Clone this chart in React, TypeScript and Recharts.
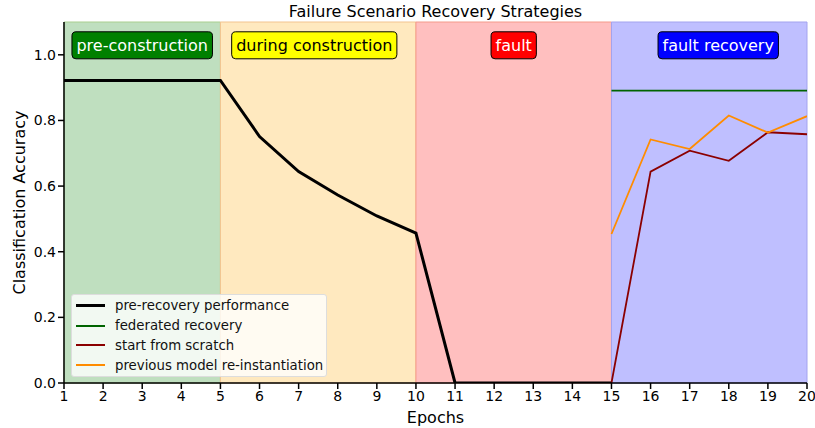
import React from 'react';
import {
  ComposedChart, Line, XAxis, YAxis, ReferenceArea, ReferenceDot,
} from 'recharts';

const epochs = [1, 2, 3, 4, 5, 6, 7, 8, 9, 10, 11, 12, 13, 14, 15, 16, 17, 18, 19, 20];
// epochs 1..15
const preRecovery = [0.922, 0.922, 0.922, 0.922, 0.922, 0.751, 0.644, 0.573, 0.509, 0.457, 0, 0, 0, 0, 0];
// epochs 15..20
const federatedRecovery = [0.891, 0.891, 0.891, 0.891, 0.891, 0.891];
const startFromScratch = [0, 0.644, 0.708, 0.677, 0.764, 0.758];
const reInstantiation = [0.454, 0.742, 0.713, 0.815, 0.763, 0.813];

const phaseNames = ['pre-construction', 'during construction', 'fault', 'fault recovery'];
const phaseStart = [1, 5, 10, 15];
const phaseEnd = [5, 10, 15, 20];
const phaseLabelX = [3, 7.4, 12.5, 17.73];

const xTicks = epochs;
const yTicks = [0, 0.2, 0.4, 0.6, 0.8, 1.0];

const FONT = '"DejaVu Sans", sans-serif';
const phaseFill = ['#bfdfbf', '#ffe9bf', '#ffbfbf', '#bfbfff'];
const phaseEdge = ['#a9cf8f', '#f3c48f', '#f59a8a', '#a3a3ee'];
const tagFill = ['#008000', '#ffff00', '#ff0000', '#0000ff'];
const tagText = ['#fff', '#000', '#fff', '#fff'];

const seriesNames = ['pre-recovery performance', 'federated recovery', 'start from scratch', 'previous model re-instantiation'];
const seriesColors = ['#000000', '#006400', '#8b0000', '#ff8c00'];

const rows = epochs.map((e, i) => ({
  epoch: e,
  pre: i < preRecovery.length ? preRecovery[i] : null,
  fed: e >= 15 ? federatedRecovery[e - 15] : null,
  scratch: e >= 15 ? startFromScratch[e - 15] : null,
  reinst: e >= 15 ? reInstantiation[e - 15] : null,
}));

let measureCtx: CanvasRenderingContext2D | null = null;
const textWidth = (s: string, size: number) => {
  if (!measureCtx) measureCtx = document.createElement('canvas').getContext('2d');
  if (!measureCtx) return s.length * size * 0.6;
  measureCtx.font = `${size}px "DejaVu Sans"`;
  return measureCtx.measureText(s).width;
};

const makeTag = (idx: number) => (props: any) => {
  const { cx, cy } = props;
  const label = phaseNames[idx];
  const w = textWidth(label, 16) + 9;
  const h = 27;
  return (
    <g>
      <rect x={cx - w / 2} y={cy - h / 2} width={w} height={h} rx={4} ry={4}
        fill={tagFill[idx]} stroke="#000" strokeWidth={1} />
      <text x={cx} y={cy + 1} textAnchor="middle" dominantBaseline="middle"
        fontFamily={FONT} fontSize={16} fill={tagText[idx]}>{label}</text>
    </g>
  );
};

const LegendBox = () => (
  <div style={{
    position: 'absolute', left: 71, top: 294, boxSizing: 'border-box',
    background: 'rgba(255,255,255,0.8)', border: '1px solid #ddd', borderRadius: 3,
    padding: '1px 4px 1px 4px', fontFamily: FONT, fontSize: 13.3, color: '#111', width: 256,
    whiteSpace: 'nowrap',
  }}>
    {seriesNames.map((n, i) => (
      <div key={n} style={{ display: 'flex', alignItems: 'center', height: 19.8 }}>
        <span style={{ display: 'inline-block', flex: 'none', width: 29, height: i === 0 ? 3 : 2, background: seriesColors[i], marginRight: 10 }} />
        <span>{n}</span>
      </div>
    ))}
  </div>
);

export default function App() {
  return (
    <div style={{ position: 'absolute', left: 0, top: 0, width: 815, height: 428, background: '#fff' }}>
      <div style={{
        position: 'absolute', top: 2, left: 64, width: 743, textAlign: 'center',
        fontFamily: FONT, fontSize: 16, color: '#000',
      }}>Failure Scenario Recovery Strategies</div>
      <ComposedChart width={815} height={428} data={rows}
        margin={{ top: 22, right: 8, bottom: 0, left: 0 }}>
        <XAxis dataKey="epoch" type="number" domain={[1, 20]} ticks={xTicks} interval={0}
          allowDataOverflow height={45} tickSize={6}
          tick={{ fill: '#000', fontSize: 14, fontFamily: FONT }}
          tickLine={{ stroke: '#000', strokeWidth: 1.5 }}
          axisLine={{ stroke: '#000', strokeWidth: 1.5 }}
          label={{ value: 'Epochs', position: 'insideBottom', offset: 5, fill: '#000', fontSize: 16, fontFamily: FONT }} />
        <XAxis xAxisId="top" orientation="top" dataKey="epoch" type="number" domain={[1, 20]}
          height={0} tick={false} tickLine={false} axisLine={{ stroke: '#000', strokeWidth: 1.5 }} />
        <YAxis type="number" domain={[0, 1.1]} ticks={yTicks} width={64} tickSize={6}
          allowDataOverflow
          tickFormatter={(v: number) => v.toFixed(1)}
          tick={{ fill: '#000', fontSize: 14, fontFamily: FONT }}
          tickLine={{ stroke: '#000', strokeWidth: 1.5 }}
          axisLine={{ stroke: '#000', strokeWidth: 1.5 }}
          label={{ value: 'Classification Accuracy', angle: -90, position: 'insideLeft', offset: 19, fill: '#000', fontSize: 16, fontFamily: FONT, style: { textAnchor: 'middle' } }} />
        <YAxis yAxisId="right" orientation="right" type="number" domain={[0, 1.1]} width={0}
          tick={false} tickLine={false} axisLine={{ stroke: '#000', strokeWidth: 1.5 }} />
        {phaseNames.map((n, i) => (
          <ReferenceArea key={n} x1={phaseStart[i]} x2={phaseEnd[i]} y1={0} y2={1.1}
            fill={phaseFill[i]} fillOpacity={1} stroke={phaseEdge[i]} strokeWidth={1} />
        ))}
        <Line dataKey="pre" stroke={seriesColors[0]} strokeWidth={3} dot={false} isAnimationActive={false} name={seriesNames[0]} />
        <Line dataKey="fed" stroke={seriesColors[1]} strokeWidth={1.8} dot={false} isAnimationActive={false} name={seriesNames[1]} />
        <Line dataKey="scratch" stroke={seriesColors[2]} strokeWidth={1.8} dot={false} isAnimationActive={false} name={seriesNames[2]} />
        <Line dataKey="reinst" stroke={seriesColors[3]} strokeWidth={1.8} dot={false} isAnimationActive={false} name={seriesNames[3]} />
        {phaseNames.map((n, i) => (
          <ReferenceDot key={'tag' + n} x={phaseLabelX[i]} y={1.029} r={0} shape={makeTag(i)} />
        ))}
      </ComposedChart>
      <LegendBox />
    </div>
  );
}
